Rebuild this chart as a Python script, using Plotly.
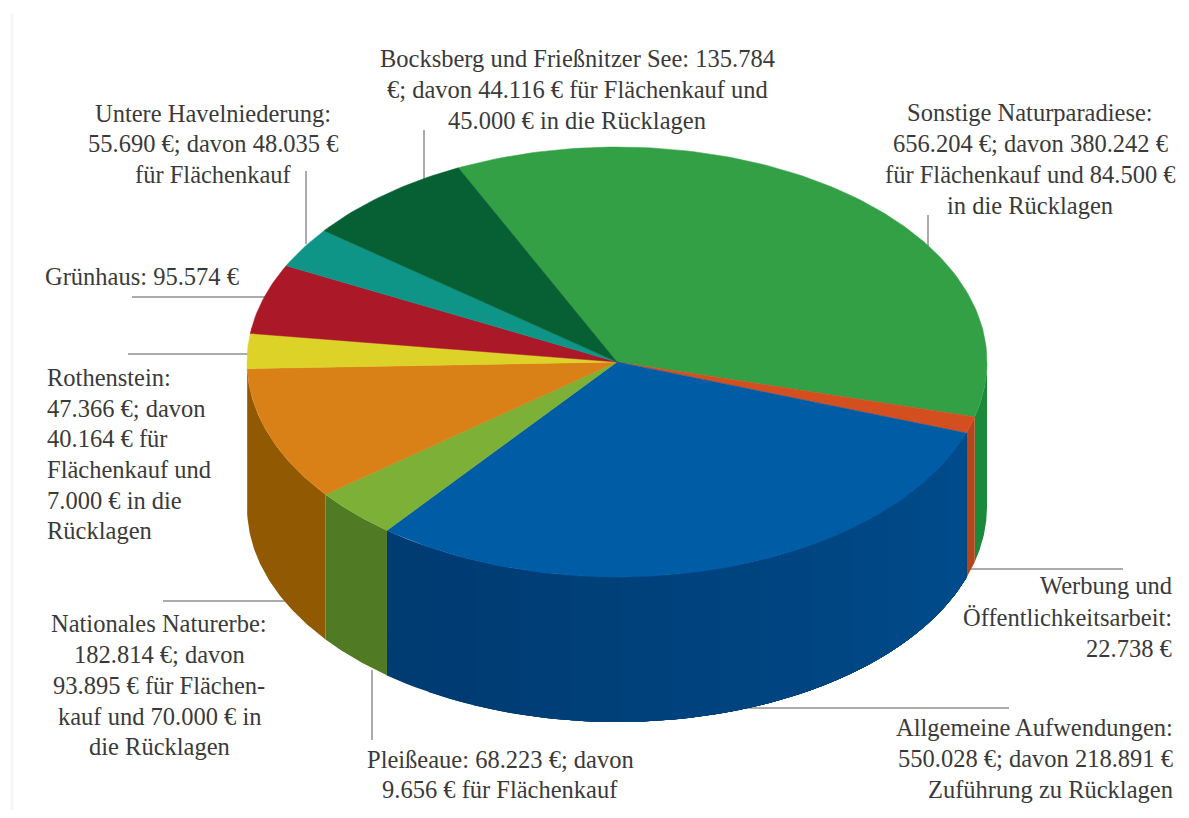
import numpy as np
import plotly.graph_objects as go

# ---- data (clockwise from the top of the pie) ----
categories = ["Sonstige Naturparadiese", "Werbung und Öffentlichkeitsarbeit", "Allgemeine Aufwendungen",
              "Pleißeaue", "Nationales Naturerbe", "Rothenstein", "Grünhaus",
              "Untere Havelniederung", "Bocksberg und Frießnitzer See"]
values = [656204, 22738, 550028, 68223, 182814, 47366, 95574, 55690, 135784]

# ---- styles ----
top_colors = ["#33a045", "#d34f20", "#005ca5", "#7cb037", "#d98117", "#dcd228", "#ab1827", "#0f9488", "#066033"]
side_left = ["#1a8a3a", "#b5451a", "#003a70", "#517a24", "#915a02", "#a89f18", "#7f1020", "#0a6a60", "#044522"]
side_right = ["#1a8a3a", "#b5451a", "#004c8c", "#517a24", "#915a02", "#a89f18", "#7f1020", "#0a6a60", "#044522"]

# ---- geometry (the axes are laid out in page pixels) ----
CX, CY, RX, RY, DEPTH = 617.0, 362.0, 370.0, 215.0, 145.0
START_DEG = 115.4
TEXT_COLOR = "#3a3a3a"
LINE_COLOR = "#8f8f8f"
FONT = "Liberation Serif"
FONT_SIZE = 24.5

# Label lines: (text, x, y, anchor)
label_blocks = [
    (["Bocksberg und Frießnitzer See: 135.784", "€; davon 44.116 € für Flächenkauf und", "45.000 € in die Rücklagen"],
     577, [58, 89, 120], "center"),
    (["Sonstige Naturparadiese:", "656.204 €; davon 380.242 €", "für Flächenkauf und 84.500 €", "in die Rücklagen"],
     1030, [112, 143, 174, 205], "center"),
    (["Untere Havelniederung:", "55.690 €; davon 48.035 €", "für Flächenkauf"],
     213, [113, 143, 174], "center"),
    (["Grünhaus: 95.574 €"], 43, [276], "left"),
    (["Rothenstein:", "47.366 €; davon", "40.164 € für", "Flächenkauf und", "7.000 € in die", "Rücklagen"],
     45, [377, 408, 438, 469, 500, 530], "left"),
    (["Nationales Naturerbe:", "182.814 €; davon", "93.895 € für Flächen-", "kauf und 70.000 € in", "die Rücklagen"],
     159, [623, 654, 685, 716, 746], "center"),
    (["Pleißeaue: 68.223 €; davon", "9.656 € für Flächenkauf"], 500, [759, 789], "center"),
    (["Werbung und", "Öffentlichkeitsarbeit:", "22.738 €"], 1174, [585, 617, 648], "right"),
    (["Allgemeine Aufwendungen:", "550.028 €; davon 218.891 €", "Zuführung zu Rücklagen"], 1175, [727, 758, 789], "right"),
]

# Leader lines
leaders = [
    ([306, 306], [171, 244]), ([132, 268], [297, 297]), ([128, 252], [354, 354]),
    ([163, 288], [601, 601]), ([372, 372], [670, 740]), ([424, 424], [130, 180]),
    ([928, 928], [215, 250]), ([970, 1123], [569, 569]), ([745, 1009], [708, 708]),
]


def ell(deg):
    a = np.radians(deg)
    return CX + RX * np.cos(a), CY - RY * np.sin(a)


def mix(c1, c2, t):
    a = [int(c1[i:i + 2], 16) for i in (1, 3, 5)]
    b = [int(c2[i:i + 2], 16) for i in (1, 3, 5)]
    return "#%02x%02x%02x" % tuple(round(p + (q - p) * t) for p, q in zip(a, b))


fig = go.Figure()

# faint edge of the scanned page
fig.add_trace(go.Scatter(x=[12, 12], y=[13, 810], mode="lines", line=dict(color="#f6f6f6", width=3), hoverinfo="skip"))

for lx, ly in leaders:
    fig.add_trace(go.Scatter(x=lx, y=ly, mode="lines", line=dict(color=LINE_COLOR, width=1.5), hoverinfo="skip"))

total = sum(values)
edges = START_DEG - np.cumsum([0] + values) / total * 360.0

# Side walls: only the front half of the rim (angles -180..0) can be seen.
# Gradient bands are painted left to right, each running to the wedge's end, so no seams show.
for i, name in enumerate(categories):
    hi, lo = edges[i], edges[i + 1]
    a1, a2 = min(hi, 0.0), max(lo, -180.0)
    if a1 <= a2:
        continue
    n = 1 if side_left[i] == side_right[i] else 14
    cuts = np.linspace(a2, a1, n + 1)
    for k in range(n):
        ang = np.linspace(cuts[k], a1, 60)
        ex, ey = ell(ang)
        xs = np.concatenate([ex, ex[::-1]])
        ys = np.concatenate([ey, ey[::-1] + DEPTH])
        col = mix(side_left[i], side_right[i], (k + 0.5) / n)
        fig.add_trace(go.Scatter(x=xs, y=ys, mode="lines", fill="toself", fillcolor=col,
                                 line=dict(width=0), name=name, hoverinfo="skip"))

# Top slices
for i, name in enumerate(categories):
    ang = np.linspace(edges[i], edges[i + 1], max(3, int(abs(values[i]) / total * 360)))
    ex, ey = ell(ang)
    xs = np.concatenate([[CX], ex, [CX]])
    ys = np.concatenate([[CY], ey, [CY]])
    fig.add_trace(go.Scatter(x=xs, y=ys, mode="lines", fill="toself", fillcolor=top_colors[i],
                             line=dict(color=top_colors[i], width=0.5), name=name,
                             hovertemplate=f"{name}: {values[i]:,}".replace(",", ".") + " €<extra></extra>"))

annotations = []
for lines, x, ys, anchor in label_blocks:
    for text, y in zip(lines, ys):
        annotations.append(dict(text=text, x=x, y=y, xref="x", yref="y", xanchor=anchor, yanchor="middle",
                                showarrow=False, font=dict(family=FONT, size=FONT_SIZE, color=TEXT_COLOR)))

fig.update_layout(
    width=1173, height=802, margin=dict(l=0, r=0, t=0, b=0),
    paper_bgcolor="white", plot_bgcolor="white", showlegend=False,
    annotations=annotations,
    xaxis=dict(range=[8, 1181], visible=False, fixedrange=True),
    yaxis=dict(range=[810, 8], visible=False, fixedrange=True),
)
fig.write_html("out.html", config=dict(displayModeBar=False))
